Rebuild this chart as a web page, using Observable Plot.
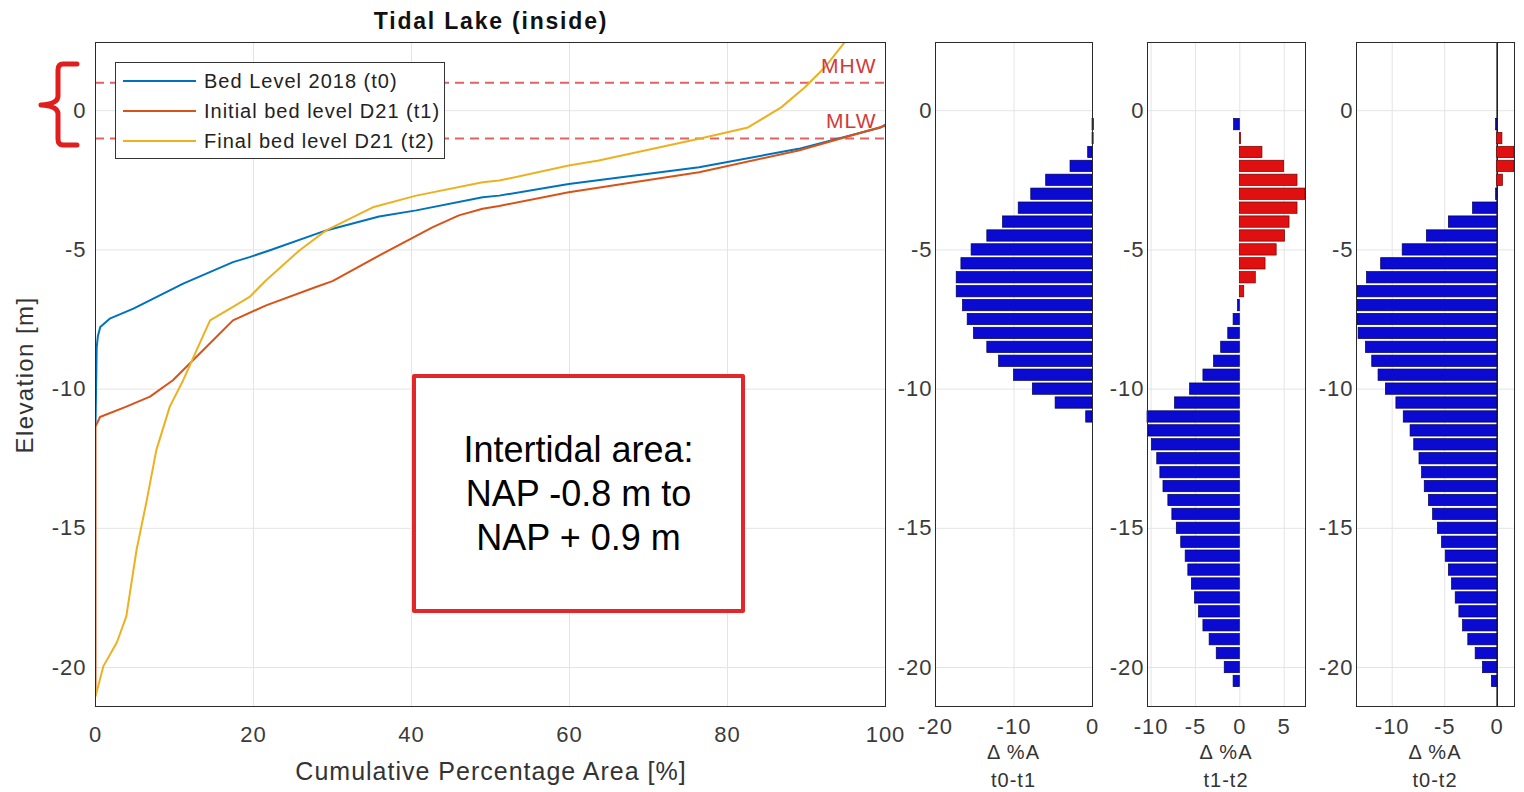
<!DOCTYPE html>
<html>
<head>
<meta charset="utf-8">
<script src="https://cdn.jsdelivr.net/npm/d3@7"></script>
<script src="https://cdn.jsdelivr.net/npm/@observablehq/plot@0.6"></script>
<style>
  body { margin: 0; background: #fff; }
  #wrap { position: relative; width: 1524px; height: 792px; overflow: hidden; font-family: "Liberation Sans", Arial, Helvetica, sans-serif; }
  #wrap > svg, #wrap > div.p { position: absolute; }
  .lbl { position: absolute; color: #333; white-space: nowrap; transform: translate(-50%, -50%); letter-spacing: 1px; }
</style>
</head>
<body>
<div id="wrap"></div>
<script>
// ---------- DATA ----------
// Hypsometric curves (cumulative percentage area vs elevation)
const pctT0  = [0, 0.1, 0.15, 0.3, 0.6, 1.8, 4.8, 11.1, 17.4, 19.5, 22.0, 29.2, 35.9, 40.6, 49.0, 51.1, 59.9, 76.4, 89.0, 99.4, 100];
const elevT0 = [-11.3, -9.5, -8.5, -8.1, -7.77, -7.47, -7.11, -6.21, -5.44, -5.26, -5.02, -4.3, -3.8, -3.58, -3.11, -3.05, -2.63, -2.03, -1.37, -0.6, -0.5];

const pctT1  = [0, 0, 0.57, 3.9, 6.9, 9.8, 13.2, 17.4, 21.6, 27.9, 30.0, 36.3, 42.7, 46.0, 49.0, 51.1, 59.9, 76.4, 89.0, 100];
const elevT1 = [-21.0, -11.35, -11.0, -10.63, -10.27, -9.68, -8.72, -7.53, -6.99, -6.33, -6.12, -5.14, -4.18, -3.76, -3.52, -3.42, -2.93, -2.21, -1.43, -0.54];

const pctT2  = [0, 1.0, 2.7, 3.9, 5.2, 6.5, 7.7, 9.4, 11.1, 12.8, 14.5, 17.4, 19.5, 21.6, 25.8, 29.2, 35.1, 40.6, 49.0, 51.1, 59.9, 63.7, 76.4, 82.6, 86.8, 89.8, 92.3, 95.5];
const elevT2 = [-21.03, -19.95, -19.1, -18.16, -15.77, -13.98, -12.19, -10.63, -9.68, -8.6, -7.53, -7.05, -6.69, -6.09, -5.02, -4.3, -3.47, -3.05, -2.57, -2.51, -1.97, -1.79, -1.01, -0.6, 0.12, 0.84, 1.55, 2.7];

const seriesNames  = ["Bed Level 2018 (t0)", "Initial bed level D21 (t1)", "Final bed level D21 (t2)"];
const seriesColors = ["#0072BD", "#D95319", "#EDB120"];

// Tidal levels
const tideNames  = ["MHW", "MLW"];
const tideLevels = [1.0, -1.0];

// Elevation bins for change histograms
const elevBins = [-0.5, -1, -1.5, -2, -2.5, -3, -3.5, -4, -4.5, -5, -5.5, -6, -6.5, -7, -7.5, -8, -8.5, -9, -9.5, -10,
  -10.5, -11, -11.5, -12, -12.5, -13, -13.5, -14, -14.5, -15, -15.5, -16, -16.5, -17, -17.5, -18, -18.5, -19, -19.5, -20, -20.5];

const dA_t0t1 = [0.2, 0.15, -0.55, -2.8, -5.9, -7.8, -9.4, -11.4, -13.4, -15.4, -16.7, -17.3, -17.3, -16.5, -15.9, -15.1, -13.4, -11.9, -10.0, -7.6,
  -4.7, -0.8, null, null, null, null, null, null, null, null, null, null, null, null, null, null, null, null, null, null, null];
const dA_t1t2 = [-0.64, 0.15, 2.55, 5.0, 6.5, 7.4, 6.5, 5.6, 5.1, 4.15, 2.9, 1.8, 0.5, -0.2, -0.7, -1.3, -2.1, -2.9, -4.1, -5.6,
  -7.3, -10.4, -10.3, -9.9, -9.3, -8.95, -8.6, -8.05, -7.6, -7.1, -6.6, -6.1, -5.8, -5.4, -5.05, -4.6, -4.1, -3.4, -2.6, -1.7, -0.7];
const dA_t0t2 = [-0.1, 0.5, 1.65, 1.65, 0.55, -0.1, -2.3, -4.6, -6.7, -9.0, -11.05, -12.4, -13.3, -13.3, -13.3, -13.2, -12.5, -11.9, -11.3, -10.6,
  -9.6, -8.9, -8.25, -7.9, -7.4, -7.15, -6.9, -6.5, -6.1, -5.65, -5.25, -4.9, -4.6, -4.3, -3.95, -3.6, -3.25, -2.75, -2.05, -1.35, -0.5];

const panelNames = ["t0-t1", "t1-t2", "t0-t2"];

// Ticks
const yTicks = [-20, -15, -10, -5, 0];
const xTicksMain = [0, 20, 40, 60, 80, 100];
const xTicksP = [[-20, -10, 0], [-10, -5, 0, 5], [-10, -5, 0]];
const xDomainsP = [[-20, 0], [-10.4, 7.4], [-13.4, 1.65]];
const yDomain = [-21.4, 2.45];

// ---------- BUILD ----------
const wrap = document.getElementById("wrap");
const FONT = '"Liberation Sans", Arial, Helvetica, sans-serif';
const baseStyle = `background: transparent; overflow: visible; font-family: ${FONT}; font-size: 22px; letter-spacing: 1px; color: #3a3a3a;`;
const gridColor = "#e4e4e4";
const frameColor = "#2a2a2a";
const fmt = d => String(d);   // plain hyphen-minus like the original

function place(el, left, top) {
  el.style.position = "absolute";
  el.style.left = left + "px";
  el.style.top = top + "px";
  wrap.appendChild(el);
}

function addLabel(text, x, y, size, extra) {
  const d = document.createElement("div");
  d.className = "lbl";
  d.textContent = text;
  d.style.left = x + "px";
  d.style.top = y + "px";
  d.style.fontSize = size + "px";
  if (extra) Object.assign(d.style, extra);
  wrap.appendChild(d);
  return d;
}

// Main panel
const lineData = [];
[[pctT0, elevT0], [pctT1, elevT1], [pctT2, elevT2]].forEach(([p, e], s) => {
  p.forEach((v, i) => lineData.push({series: seriesNames[s], pct: v, elev: e[i]}));
});
const tideData = tideNames.map((n, i) => ({name: n, level: tideLevels[i]}));

const main = Plot.plot({
  width: 905, height: 792,
  marginLeft: 95, marginRight: 20, marginTop: 42, marginBottom: 86,
  style: baseStyle,
  x: {domain: [0, 100], ticks: xTicksMain, tickSize: 0, tickPadding: 20, tickFormat: fmt, label: null},
  y: {domain: yDomain, ticks: yTicks, tickSize: 0, tickPadding: 9, tickFormat: fmt, label: null},
  color: {domain: seriesNames, range: seriesColors},
  marks: [
    Plot.gridX(xTicksMain, {stroke: gridColor, strokeOpacity: 1}),
    Plot.gridY(yTicks, {stroke: gridColor, strokeOpacity: 1}),
    Plot.ruleY(tideData, {y: "level", stroke: "#e06262", strokeWidth: 2, strokeDasharray: "9,6"}),
    Plot.line(lineData, {x: "pct", y: "elev", z: "series", stroke: "series", strokeWidth: 2, strokeLinejoin: "round", clip: true}),
    Plot.text(tideData, {x: 100, y: "level", text: "name", textAnchor: "end", dx: -9, dy: -17, fill: "#d23a3a", fontSize: 21}),
    Plot.frame({stroke: frameColor})
  ]
});
place(main, 0, 0);

// Histogram panels
const panelLefts = [880, 1110, 1320];
const panelWidths = [230, 210, 204];
const panelML = [55, 37, 36];
const panelMR = [18, 15, 10];
const panelVals = [dA_t0t1, dA_t1t2, dA_t0t2];
panelVals.forEach((vals, k) => {
  const data = elevBins.map((e, i) => ({elev: e, v: vals[i]})).filter(d => d.v != null);
  const marks = [
    Plot.gridX(xTicksP[k], {stroke: gridColor, strokeOpacity: 1}),
    Plot.gridY(yTicks, {stroke: gridColor, strokeOpacity: 1}),
  ];
  if (k === 2) marks.push(Plot.ruleX([0], {stroke: "#111", strokeWidth: 1.5}));
  marks.push(
    Plot.rectX(data, {
      x1: 0, x2: "v",
      y1: d => d.elev - 0.25, y2: d => d.elev + 0.25,
      insetTop: 1.3, insetBottom: 1.3,
      fill: d => d.v > 0 ? "#e01010" : "#0a0ad0",
      stroke: d => d.v > 0 ? "#700000" : "#00005a",
      strokeWidth: 0.7
    }),
    Plot.frame({stroke: frameColor})
  );
  const p = Plot.plot({
    width: panelWidths[k], height: 792,
    marginLeft: panelML[k], marginRight: panelMR[k], marginTop: 42, marginBottom: 86,
    style: baseStyle,
    x: {domain: xDomainsP[k], ticks: xTicksP[k], tickSize: 0, tickPadding: 12, tickFormat: fmt, label: null},
    y: {domain: yDomain, ticks: yTicks, tickSize: 0, tickPadding: 3, tickFormat: fmt, label: null},
    marks
  });
  place(p, panelLefts[k], 0);
  const cx = panelLefts[k] + panelML[k] + (panelWidths[k] - panelML[k] - panelMR[k]) / 2;
  addLabel("\u0394 %A", cx, 752, 20);
  addLabel(panelNames[k], cx, 780, 20);
});

// Title & axis labels
addLabel("Tidal Lake (inside)", 491, 21, 23, {fontWeight: "bold", color: "#111", letterSpacing: "1.8px"});
addLabel("Cumulative Percentage Area [%]", 491, 771, 25, {letterSpacing: "1px"});
addLabel("Elevation [m]", 25, 375, 24, {transform: "translate(-50%, -50%) rotate(-90deg)", letterSpacing: "1.4px"});

// Legend
const leg = document.createElement("div");
Object.assign(leg.style, {position: "absolute", left: "115px", top: "62px", width: "330px", height: "97px",
  boxSizing: "border-box", border: "1.5px solid #333", background: "#fff"});
seriesNames.forEach((n, i) => {
  const row = document.createElement("div");
  Object.assign(row.style, {position: "absolute", left: "0px", top: (18 + 30 * i - 12) + "px", height: "24px", width: "100%"});
  const sw = document.createElement("div");
  Object.assign(sw.style, {position: "absolute", left: "7px", top: "11px", width: "73px", height: "2px", background: seriesColors[i]});
  const tx = document.createElement("div");
  Object.assign(tx.style, {position: "absolute", left: "88px", top: "0px", lineHeight: "24px", fontSize: "20px", letterSpacing: "1px", color: "#222", whiteSpace: "nowrap"});
  tx.textContent = n;
  row.appendChild(sw); row.appendChild(tx);
  leg.appendChild(row);
});
wrap.appendChild(leg);

// Curly brace annotation
const ns = "http://www.w3.org/2000/svg";
const br = document.createElementNS(ns, "svg");
br.setAttribute("width", 100); br.setAttribute("height", 170);
br.style.position = "absolute"; br.style.left = "0px"; br.style.top = "0px";
const path = document.createElementNS(ns, "path");
path.setAttribute("d", "M77 64 L63 64 Q58 64 58 70 L58 96 Q58 104 41 105 Q58 106 58 114 L58 139 Q58 145 63 145 L77 145");
path.setAttribute("fill", "none");
path.setAttribute("stroke", "#e01e1e");
path.setAttribute("stroke-width", "5");
path.setAttribute("stroke-linecap", "round");
path.setAttribute("stroke-linejoin", "round");
br.appendChild(path);
wrap.appendChild(br);

// Intertidal annotation box
const box = document.createElement("div");
Object.assign(box.style, {position: "absolute", left: "412px", top: "374px", width: "333px", height: "239px",
  boxSizing: "border-box", border: "4.5px solid #e3262a", borderRadius: "2px", background: "#fff",
  display: "flex", alignItems: "center", justifyContent: "center", textAlign: "center",
  fontFamily: FONT, fontSize: "36px", lineHeight: "44px", color: "#000"});
box.innerHTML = "Intertidal area:<br>NAP -0.8 m to<br>NAP + 0.9 m";
wrap.appendChild(box);
</script>
</body>
</html>
